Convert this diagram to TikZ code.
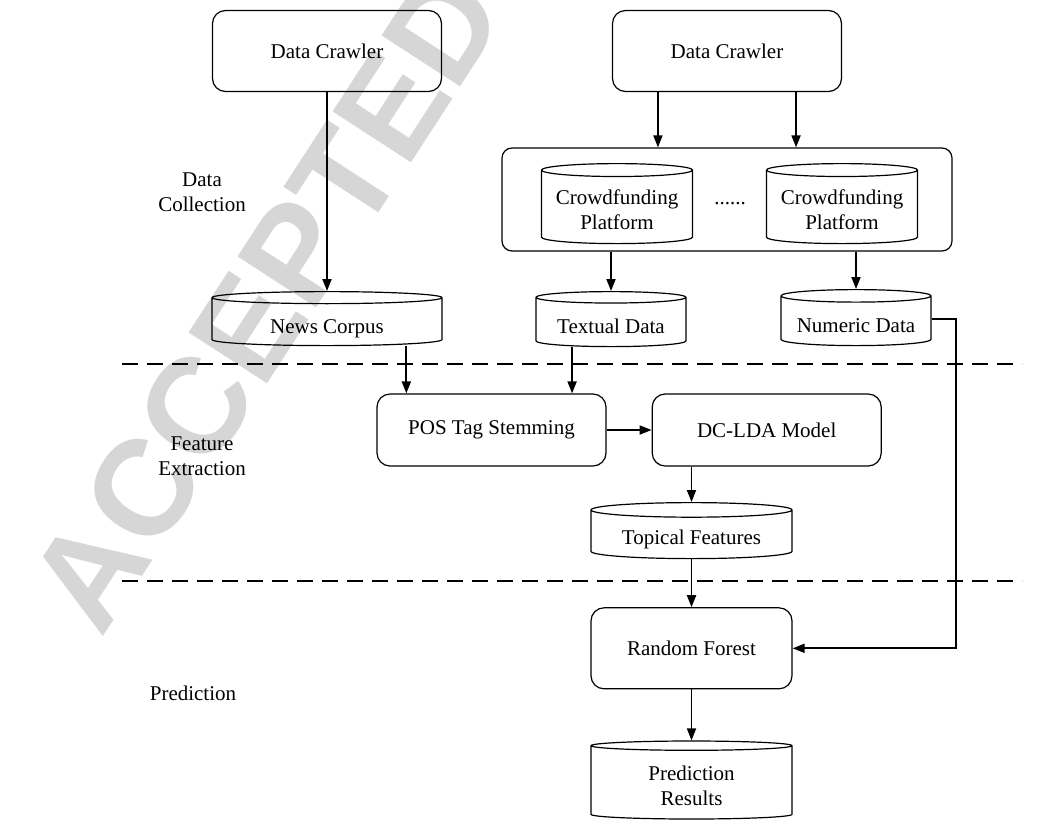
\documentclass[tikz,border=0pt]{standalone}
\usepackage{fontspec}
\setmainfont{Liberation Serif}
\newfontfamily\markfont{Liberation Sans}
\usetikzlibrary{arrows.meta,positioning,calc,shapes.geometric}
\newcommand\lift[1]{\rule{0pt}{#1}}

\begin{document}
\begin{tikzpicture}[
  x=1pt, y=-1pt,
  every node/.style={font=\fontsize{21}{25}\selectfont},
  proc/.style={draw, line width=1.2pt, rounded corners=13pt, align=center},
  store/.style={draw, line width=1.2pt, cylinder, shape border rotate=90, aspect=0.1,
    inner ysep=1pt, align=center},
  arrow/.style={-{Triangle[length=12pt,width=9pt]}, line width=1.8pt},
  sep/.style={dash pattern=on 16pt off 9pt, line width=1.5pt},
  stamp/.style={text=black!16, font=\markfont\bfseries\fontsize{136}{136}\selectfont},
  ]
\useasboundingbox (0,0) rectangle (1043,831);
\clip (0,0) rectangle (1043,831);

% Watermark, behind everything
\node[stamp, rotate=57, anchor=base west] (mark) at (100,642) {ACCEPTED MANUSCRIPT};

% Data collection
\node[proc, minimum width=229pt, minimum height=81pt] (crawlA) at (327,51) {Data Crawler};
\node[proc, minimum width=229pt, minimum height=81pt] (crawlB) at (727,51) {Data Crawler};
\node[proc, rounded corners=10pt, minimum width=450pt, minimum height=103pt] (platforms) at (727,199.5) {};
\node[store, minimum width=151pt, minimum height=80pt, anchor=north] (cfA) at (617,163) {\lift{19pt}Crowdfunding\\Platform};
\node[store, minimum width=151pt, minimum height=80pt, anchor=north] (cfB) at (842,163) {\lift{19pt}Crowdfunding\\Platform};
\node (dots) at (730,204) {......};
\node[store, minimum width=230pt, minimum height=54pt, anchor=north] (news) at (327,291) {\lift{26pt}News Corpus};
\node[store, minimum width=150pt, minimum height=55pt, anchor=north] (textual) at (611,291) {\lift{21pt}Textual Data};
\node[store, minimum width=150pt, minimum height=56pt, anchor=north] (numeric) at (856,289) {\lift{22pt}Numeric Data};

% Feature extraction
\node[proc, minimum width=229pt, minimum height=72pt] (pos) at (491.5,430) {POS Tag Stemming};
\node[proc, minimum width=229pt, minimum height=72pt, right=45pt of pos] (lda) {DC-LDA Model};
\node[store, minimum width=201pt, minimum height=56pt, anchor=north] (topical) at (691.5,502) {\lift{23pt}Topical Features};

% Prediction
\node[proc, minimum width=201pt, minimum height=81pt, below=48pt of topical] (forest) {Random Forest};
\node[store, minimum width=201pt, minimum height=78pt, below=51pt of forest] (results) {\lift{19pt}Prediction\\Results};

% Stage labels on the left
\node[align=center] (collect) at (202,192) {Data\\Collection};
\node[align=center] (extract) at (202,456) {Feature\\Extraction};
\node (predict) at (193,693) {Prediction};

% Stage borders
\draw[sep] (122,364) -- (1022,364);
\draw[sep] (122,581) -- (1022,581);

% Arrows
\coordinate (feedA) at ($(crawlB.south west)!0.2!(crawlB.south east)$);
\coordinate (feedB) at ($(crawlB.south west)!0.8!(crawlB.south east)$);
\coordinate (inA) at ($(pos.north west)!0.13!(pos.north east)$);
\coordinate (inB) at ($(pos.north west)!0.85!(pos.north east)$);
\draw[arrow] (crawlA) -- (news);
\draw[arrow] (feedA) -- (feedA |- platforms.north);
\draw[arrow] (feedB) -- (feedB |- platforms.north);
\draw[arrow] (textual.north |- platforms.south) -- (textual.north);
\draw[arrow] (numeric.north |- platforms.south) -- (numeric.north);
\draw[arrow] (inA |- news.south) -- (inA);
\draw[arrow] (inB |- textual.south) -- (inB);
\draw[arrow] (pos) -- (lda);
\draw[arrow] (lda.south -| topical.north) -- (topical.north);
\draw[arrow] (topical) -- (forest);
\draw[arrow] ([yshift=3pt]numeric.east) -- ++(24,0) |- (forest.east);
\draw[arrow] (forest) -- (results);

\end{tikzpicture}
\end{document}
